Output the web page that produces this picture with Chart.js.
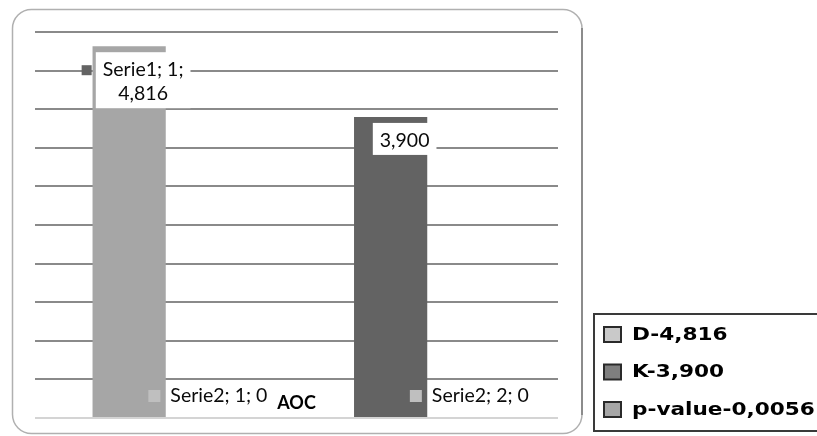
<!DOCTYPE html>
<html>
<head>
<meta charset="utf-8">
<script src="https://cdn.jsdelivr.net/npm/chart.js@4/dist/chart.umd.min.js"></script>
<style>
  html, body { margin: 0; padding: 0; background: #ffffff; }
  #wrap { width: 817px; height: 436px; }
</style>
</head>
<body>
<div id="wrap"><canvas id="c" width="817" height="436"></canvas></div>
<script>
// ---- data ----
const categories = ['1', '2'];
const serie1Name = 'Serie1';
const serie1Values = [4.816, 3.900];
const serie1ShowName = [true, false];
const serie2Name = 'Serie2';
const serie2Values = [0, 0];
const axisTitle = 'AOC';
const legendLabels = ['D-4,816', 'K-3,900', 'p-value-0,0056'];
const yMin = 0, yMax = 5, yStep = 0.5;

// ---- styles ----
const barColors = ['#a6a6a6', '#636363'];
const legendSwatches = ['#c9c9c9', '#7f7f7f', '#a6a6a6'];
const labelFont = '19.5px Lato';

const fmt = v => (v === 0 ? '0' : v.toFixed(3).replace('.', ','));

function roundRectPath(ctx, x, y, w, h, r) {
  ctx.beginPath();
  ctx.moveTo(x + r, y);
  ctx.lineTo(x + w - r, y);
  ctx.arcTo(x + w, y, x + w, y + r, r);
  ctx.lineTo(x + w, y + h - r);
  ctx.arcTo(x + w, y + h, x + w - r, y + h, r);
  ctx.lineTo(x + r, y + h);
  ctx.arcTo(x, y + h, x, y + h - r, r);
  ctx.lineTo(x, y + r);
  ctx.arcTo(x, y, x + r, y, r);
  ctx.closePath();
}

const decorations = {
  id: 'decorations',
  beforeDraw(chart) {
    const ctx = chart.ctx;
    ctx.save();
    ctx.fillStyle = '#ffffff';
    ctx.fillRect(0, 0, chart.width, chart.height);
    // rounded plot frame
    roundRectPath(ctx, 12.5, 9.5, 569.5, 424, 19);
    ctx.strokeStyle = '#b0b0b0';
    ctx.lineWidth = 1.5;
    ctx.stroke();
    ctx.beginPath();
    ctx.moveTo(582, 28);
    ctx.lineTo(582, 415);
    ctx.strokeStyle = '#8c8c8c';
    ctx.lineWidth = 2;
    ctx.stroke();
    ctx.restore();
  },
  afterDatasetsDraw(chart) {
    const ctx = chart.ctx;
    const area = chart.chartArea;
    ctx.save();

    // Serie1 data labels
    const m1 = chart.getDatasetMeta(0);
    m1.data.forEach((bar, i) => {
      const val = fmt(serie1Values[i]);
      const lines = serie1ShowName[i]
        ? [serie1Name + '; ' + categories[i] + ';', val]
        : [val];
      ctx.font = labelFont;
      const w = Math.max(...lines.map(t => ctx.measureText(t).width));
      const cx = bar.x + 14, cy = bar.y + 24, lh = 24;
      const left = cx - w / 2 - 7, right = cx + w / 2 + 7;
      const top = cy - 18, bottom = cy + (lines.length - 1) * lh + 14;
      ctx.fillStyle = '#ffffff';
      ctx.fillRect(left, top, right - left, bottom - top);
      if (serie1ShowName[i]) {
        ctx.fillStyle = '#636363';
        ctx.fillRect(bar.x - 47.5, cy - 5, 10, 10);
      }
      ctx.fillStyle = '#0a0a0a';
      ctx.textAlign = 'center';
      ctx.textBaseline = 'middle';
      lines.forEach((t, k) => ctx.fillText(t, cx, cy + k * lh));
    });

    // Serie2 data labels (zero-height bars)
    const m2 = chart.getDatasetMeta(1);
    m2.data.forEach((bar, i) => {
      const y = bar.y - 22;
      ctx.fillStyle = '#bfbfbf';
      ctx.fillRect(bar.x - 54, y - 6, 12, 12);
      ctx.font = labelFont;
      ctx.fillStyle = '#0a0a0a';
      ctx.textAlign = 'left';
      ctx.textBaseline = 'middle';
      ctx.fillText(serie2Name + '; ' + categories[i] + '; ' + fmt(serie2Values[i]), bar.x - 32, y);
    });

    // category axis title
    ctx.font = 'bold 18px Lato';
    ctx.fillStyle = '#000000';
    ctx.textAlign = 'center';
    ctx.textBaseline = 'middle';
    ctx.fillText(axisTitle, (area.left + area.right) / 2, area.bottom - 15);
    ctx.restore();
  },
  afterDraw(chart) {
    const ctx = chart.ctx;
    ctx.save();
    // legend box
    ctx.strokeStyle = '#3a3a3a';
    ctx.lineWidth = 2;
    ctx.strokeRect(594, 314, 240, 117);
    legendLabels.forEach((t, i) => {
      const yc = 335 + i * 37.5;
      ctx.fillStyle = legendSwatches[i];
      ctx.fillRect(604, yc - 8, 17, 15);
      ctx.strokeStyle = '#2a2a2a';
      ctx.lineWidth = 2;
      ctx.strokeRect(604, yc - 8, 17, 15);
      ctx.save();
      ctx.translate(632, yc);
      ctx.scale(1.2, 1);
      ctx.font = 'bold 18px "DejaVu Sans"';
      ctx.fillStyle = '#000000';
      ctx.textAlign = 'left';
      ctx.textBaseline = 'middle';
      ctx.fillText(t, 0, 0);
      ctx.restore();
    });
    ctx.restore();
  }
};

new Chart(document.getElementById('c'), {
  type: 'bar',
  data: {
    labels: categories,
    datasets: [
      { label: serie1Name, data: serie1Values, backgroundColor: barColors, borderWidth: 0 },
      { label: serie2Name, data: serie2Values, backgroundColor: '#bfbfbf', borderWidth: 0 }
    ]
  },
  options: {
    responsive: false,
    animation: false,
    devicePixelRatio: 1,
    layout: { padding: { left: 35, right: 259, top: 32, bottom: 18 } },
    datasets: { bar: { categoryPercentage: 0.56, barPercentage: 1.0 } },
    plugins: { legend: { display: false }, tooltip: { enabled: false } },
    scales: {
      x: { display: false },
      y: {
        min: yMin, max: yMax,
        ticks: { display: false, stepSize: yStep },
        border: { display: false },
        grid: {
          drawTicks: false,
          lineWidth: 2,
          color: c => (c.tick && c.tick.value === 0 ? '#d4d4d4' : '#8a8a8a')
        }
      }
    }
  },
  plugins: [decorations]
});
</script>
</body>
</html>
